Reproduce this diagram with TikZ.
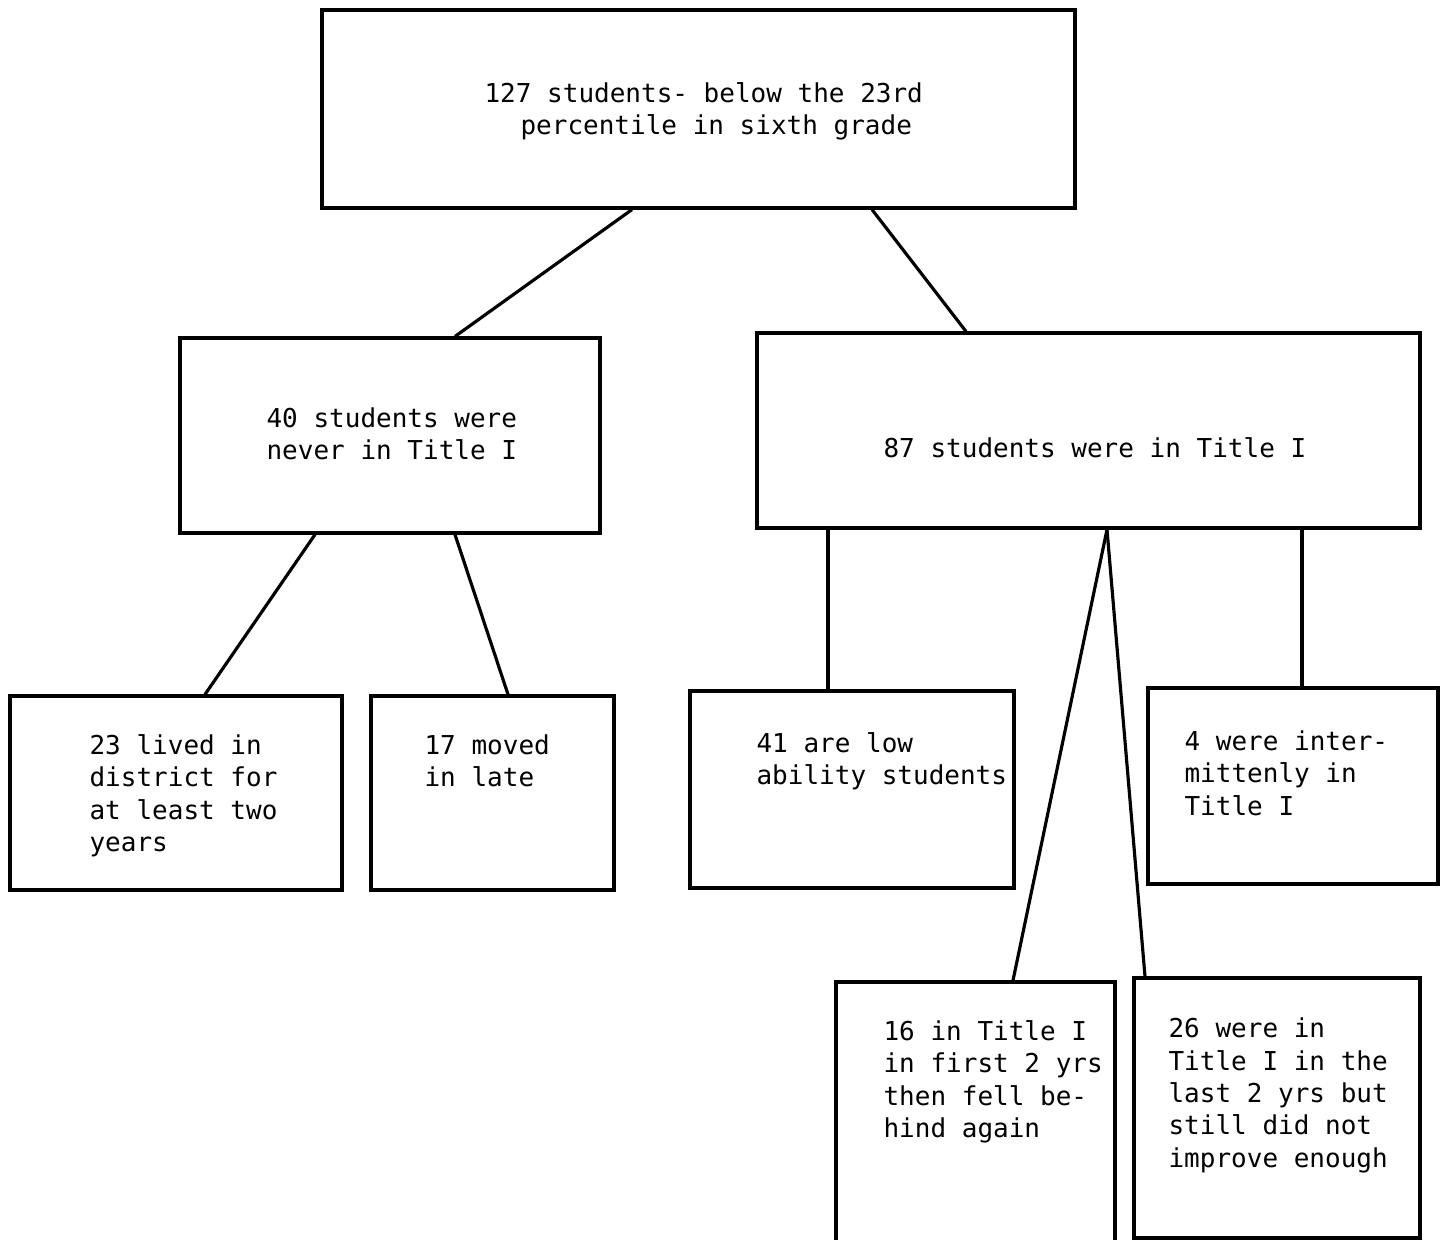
\documentclass[tikz,border=0pt]{standalone}
\usepackage{fontspec}
\newfontfamily\typewriter{DejaVu Sans Mono}
\usepackage{tikz}
\usetikzlibrary{positioning}

\begin{document}
\begin{tikzpicture}[x=0.02cm, y=-0.02cm, line width=1.8pt,
  box/.style={draw, inner sep=0pt},
  txt/.style={anchor=base west, inner sep=0pt, align=left,
    font=\typewriter\fontsize{14.8}{18.4}\selectfont}]
  \useasboundingbox (0,0) rectangle (1445,1240);
  % boxes
  \node[box,minimum width=15.06cm,minimum height=3.96cm] (total) at (698.5,109) {};
  \node[box,minimum width=8.4cm,minimum height=3.9cm] (never) at (390,435.5) {};
  \node[box,minimum width=13.26cm,minimum height=3.9cm] (titleI) at (1088.5,430.5) {};
  \node[box,minimum width=6.64cm,minimum height=3.88cm] (lived) at (176,793) {};
  \node[box,minimum width=4.86cm,minimum height=3.88cm] (moved) at (492.5,793) {};
  \node[box,minimum width=6.48cm,minimum height=3.94cm] (low) at (852,789.5) {};
  \node[box,minimum width=5.8cm,minimum height=3.92cm] (inter) at (1293,786) {};
  \node[box,minimum width=5.58cm,minimum height=5.56cm] (first) at (975.5,1121) {};
  \node[box,minimum width=5.72cm,minimum height=5.2cm] (last) at (1277,1108) {};
  % texts (placed at the baseline of their last line)
  \node[txt] (totaltxt) at (483,135) {127 students- below the 23rd\\\hspace*{0.72cm}percentile in sixth grade};
  \node[txt] (nevertxt) at (265,459.5) {40 students were\\never in Title I};
  \node[txt] (titleItxt) at (882,458) {87 students were in Title I};
  \node[txt] (livedtxt) at (88,851.5) {23 lived in\\district for\\at least two\\years};
  \node[txt] (movedtxt) at (423,786.5) {17 moved\\in late};
  \node[txt] (lowtxt) at (755,784.5) {41 are low\\ability students};
  \node[txt] (intertxt) at (1183,815) {4 were inter-\\mittenly in\\Title I};
  \node[txt] (firsttxt) at (882,1137.5) {16 in Title I\\in first 2 yrs\\then fell be-\\hind again};
  \node[txt] (lasttxt) at (1167,1167) {26 were in\\Title I in the\\last 2 yrs but\\still did not\\improve enough};
  % connectors
  \foreach \a/\xa/\b/\xb in {total/632/never/455, total/872/titleI/966,
      never/315/lived/205, never/455/moved/508,
      titleI/828/low/828, titleI/1107/first/1013,
      titleI/1107/last/1145, titleI/1302/inter/1302} {
    \draw (\a.south -| \xa,0) -- (\b.north -| \xb,0);
  }
\end{tikzpicture}
\end{document}
